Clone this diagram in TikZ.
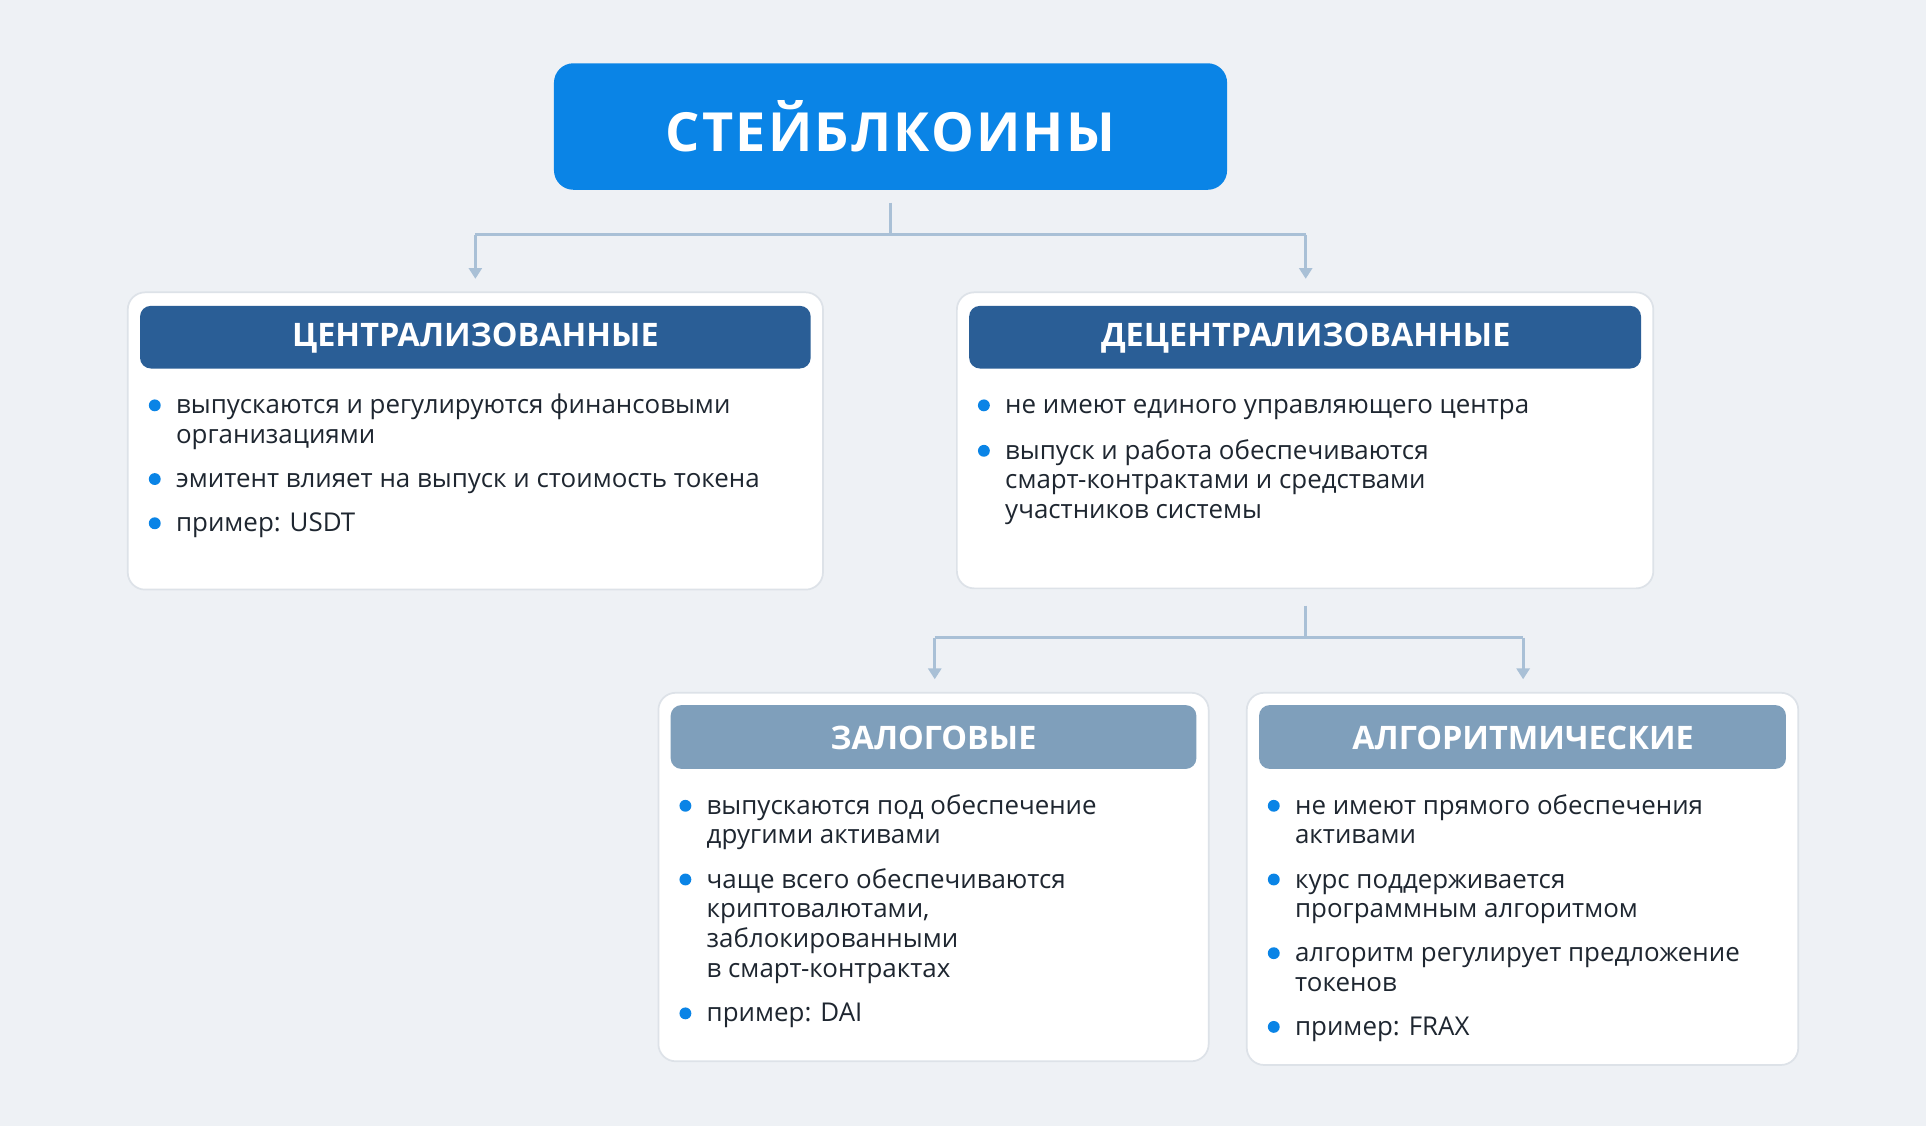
\documentclass[tikz,border=0pt]{standalone}
\usepackage{fontspec}
\setmainfont{Open Sans}
\usetikzlibrary{arrows.meta}
\definecolor{bg}{HTML}{EEF1F5}
\definecolor{topc}{HTML}{0A84E6}
\definecolor{dark}{HTML}{2A5E96}
\definecolor{grey}{HTML}{7F9FBB}
\definecolor{conn}{HTML}{A9C0D6}
\definecolor{txt}{HTML}{1E2630}
\definecolor{border}{HTML}{DDE2E8}
\begin{document}
\begin{tikzpicture}[x=0.02cm,y=-0.02cm,
 card/.style={fill=white,draw=border,line width=0.8pt,rounded corners=8pt},
 head/.style={text=white,font=\bfseries\fontsize{15}{17}\selectfont,inner sep=0pt},
 conn/.style={draw=conn,line width=1.4pt},
 arr/.style={conn,-{Triangle[width=6pt,length=5pt]}},
 dot/.style={circle,fill=topc,inner sep=0pt,minimum size=5.5pt},
 bt/.style={anchor=base west,text=txt,inner sep=0pt,font=\fontsize{12}{13.6}\selectfont}]
\fill[bg] (0,0) rectangle (1568,917);
\useasboundingbox (0,0) rectangle (1568,917);
% top
\node[fill=topc,rounded corners=9pt,minimum width=548*0.02cm,minimum height=103*0.02cm,text=white,font=\bfseries\fontsize{25}{28}\selectfont] (top) at (725,103) {\addfontfeatures{LetterSpace=4}СТЕЙБЛКОИНЫ};
\coordinate (j1) at (725,191);
\coordinate (l1) at (387,191);
\coordinate (r1) at (1063,191);
\coordinate (a1) at (387,227);
\coordinate (b1) at (1063,227);
\draw[conn] (725,165) -- (j1);
\draw[conn] (l1) -- (r1);
\draw[arr] (l1) -- (a1);
\draw[arr] (r1) -- (b1);
% cards
\draw[card] (104,238) rectangle (670,480);
\fill[dark,rounded corners=5pt] (114,249) rectangle (660,300);
\node[head] (hc) at (387,275) {ЦЕНТРАЛИЗОВАННЫЕ};
\draw[card] (779,238) rectangle (1346,479);
\fill[dark,rounded corners=5pt] (789,249) rectangle (1336,300);
\node[head] (hd) at (1063,275) {ДЕЦЕНТРАЛИЗОВАННЫЕ};
% left bullets
\node[dot] at (126,330) {}; \node[bt] at (143,337) {выпускаются и регулируются финансовыми};
\node[bt] at (143,361) {организациями};
\node[dot] at (126,390) {}; \node[bt] at (143,397) {эмитент влияет на выпуск и стоимость токена};
\node[dot] at (126,426) {}; \node[bt] at (143,433) {пример: USDT};
% right bullets
\node[dot] at (801,330) {}; \node[bt] at (818,337) {не имеют единого управляющего центра};
\node[dot] at (801,367) {}; \node[bt] at (818,374) {выпуск и работа обеспечиваются};
\node[bt] at (818,398) {смарт-контрактами и средствами};
\node[bt] at (818,422) {участников системы};
% second connector
\coordinate (j2) at (1063,519);
\coordinate (l2) at (761,519);
\coordinate (r2) at (1240,519);
\coordinate (a2) at (761,553);
\coordinate (b2) at (1240,553);
\draw[conn] (1063,493) -- (j2);
\draw[conn] (l2) -- (r2);
\draw[arr] (l2) -- (a2);
\draw[arr] (r2) -- (b2);
\draw[card] (536,564) rectangle (984,864);
\fill[grey,rounded corners=5pt] (546,574) rectangle (974,626);
\node[head] (hz) at (760,601) {ЗАЛОГОВЫЕ};
\draw[card] (1015,564) rectangle (1464,867);
\fill[grey,rounded corners=5pt] (1025,574) rectangle (1454,626);
\node[head] (ha) at (1240,601) {АЛГОРИТМИЧЕСКИЕ};
% zalog
\node[dot] at (558,656) {}; \node[bt] at (575,663) {выпускаются под обеспечение};
\node[bt] at (575,687) {другими активами};
\node[dot] at (558,716) {}; \node[bt] at (575,723) {чаще всего обеспечиваются};
\node[bt] at (575,747) {криптовалютами,};
\node[bt] at (575,771) {заблокированными};
\node[bt] at (575,796) {в смарт-контрактах};
\node[dot] at (558,825) {}; \node[bt] at (575,832) {пример: DAI};
% algo
\node[dot] at (1037,656) {}; \node[bt] at (1054,663) {не имеют прямого обеспечения};
\node[bt] at (1054,687) {активами};
\node[dot] at (1037,716) {}; \node[bt] at (1054,723) {курс поддерживается};
\node[bt] at (1054,747) {программным алгоритмом};
\node[dot] at (1037,776) {}; \node[bt] at (1054,783) {алгоритм регулирует предложение};
\node[bt] at (1054,807) {токенов};
\node[dot] at (1037,836) {}; \node[bt] at (1054,843) {пример: FRAX};
\end{tikzpicture}
\end{document}
